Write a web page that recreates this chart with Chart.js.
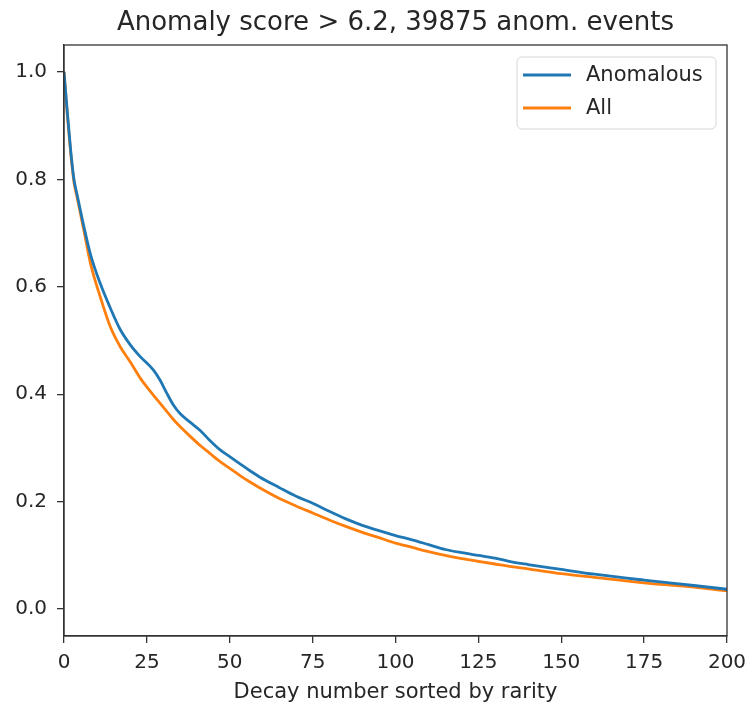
<!DOCTYPE html>
<html>
<head>
<meta charset="utf-8">
<title>Anomaly score</title>
<script src="https://cdn.jsdelivr.net/npm/chart.js@4.4.0/dist/chart.umd.min.js"></script>
<style>
  html, body { margin: 0; padding: 0; background: #fff; }
  #wrap { width: 751px; height: 706px; }
</style>
</head>
<body>
<div id="wrap"><canvas id="chart" width="751" height="706"></canvas></div>
<script>
/* data (decay index sorted by rarity) */
const decayX = [0, 1, 2, 3, 4, 6, 8, 11, 14, 17, 20, 23, 27, 29, 31, 33, 35, 38, 41, 44, 47, 50, 53, 56, 59, 65, 70, 75, 80, 85, 90, 95, 100, 105, 110, 115, 120, 125, 130, 135, 140, 150, 160, 175, 190, 200];
const anomalous = [1.0, 0.925, 0.855, 0.80, 0.77, 0.712, 0.66, 0.605, 0.56, 0.52, 0.492, 0.47, 0.445, 0.426, 0.402, 0.38, 0.364, 0.348, 0.333, 0.314, 0.297, 0.284, 0.271, 0.258, 0.246, 0.226, 0.21, 0.197, 0.182, 0.168, 0.156, 0.146, 0.137, 0.129, 0.12, 0.111, 0.105, 0.1, 0.095, 0.088, 0.083, 0.074, 0.065, 0.054, 0.044, 0.037];
const allEvents = [1.0, 0.92, 0.85, 0.795, 0.765, 0.705, 0.643, 0.58, 0.525, 0.488, 0.46, 0.43, 0.398, 0.383, 0.368, 0.353, 0.34, 0.322, 0.305, 0.29, 0.275, 0.262, 0.249, 0.237, 0.226, 0.206, 0.192, 0.179, 0.166, 0.154, 0.143, 0.133, 0.123, 0.115, 0.107, 0.1, 0.094, 0.089, 0.084, 0.079, 0.075, 0.066, 0.059, 0.049, 0.041, 0.034];
const seriesNames = ['Anomalous', 'All'];
const xTicks = [0, 25, 50, 75, 100, 125, 150, 175, 200];
const yTicks = [0.0, 0.2, 0.4, 0.6, 0.8, 1.0];
const titleText = 'Anomaly score > 6.2, 39875 anom. events';

const FONT = 'DejaVu Sans';
const TEXT = '#262626';

// matplotlib-like frame round the plot area
const framePlugin = {
  id: 'frame',
  afterDraw(chart) {
    const { ctx, chartArea: a } = chart;
    ctx.save();
    ctx.strokeStyle = '#333';
    ctx.lineWidth = 1.3;
    ctx.strokeRect(a.left, a.top, a.right - a.left, a.bottom - a.top);
    ctx.restore();
  }
};

// title centred over the plot area (matplotlib style)
const axesTitle = {
  id: 'axesTitle',
  afterDraw(chart) {
    const { ctx, chartArea: a } = chart;
    ctx.save();
    ctx.font = `26px "${FONT}"`;
    ctx.fillStyle = TEXT;
    ctx.textAlign = 'center';
    ctx.textBaseline = 'alphabetic';
    ctx.fillText(titleText, (a.left + a.right) / 2, a.top - 15);
    ctx.restore();
  }
};

// legend box in the upper right corner
const boxLegend = {
  id: 'boxLegend',
  afterDraw(chart) {
    const { ctx, chartArea: a } = chart;
    const w = 199, h = 72;
    const x = a.right - 11 - w, y = a.top + 12;
    ctx.save();
    ctx.beginPath();
    ctx.roundRect(x, y, w, h, 5);
    ctx.fillStyle = 'rgba(255,255,255,0.8)';
    ctx.fill();
    ctx.strokeStyle = '#d6d6d6';
    ctx.lineWidth = 1;
    ctx.stroke();
    ctx.font = `21px "${FONT}"`;
    ctx.textBaseline = 'middle';
    chart.data.datasets.forEach((ds, i) => {
      const yy = y + 18 + i * 33;
      ctx.strokeStyle = ds.borderColor;
      ctx.lineWidth = 2.8;
      ctx.beginPath();
      ctx.moveTo(x + 6, yy);
      ctx.lineTo(x + 54, yy);
      ctx.stroke();
      ctx.fillStyle = TEXT;
      ctx.fillText(ds.label, x + 69, yy + 1);
    });
    ctx.restore();
  }
};

new Chart(document.getElementById('chart').getContext('2d'), {
  type: 'line',
  data: {
    datasets: [
      {
        label: seriesNames[0],
        data: decayX.map((x, i) => ({ x, y: anomalous[i] })),
        borderColor: '#1f77b4',
        borderWidth: 2.8,
        pointRadius: 0,
        cubicInterpolationMode: 'monotone',
        fill: false
      },
      {
        label: seriesNames[1],
        data: decayX.map((x, i) => ({ x, y: allEvents[i] })),
        borderColor: '#ff7f0e',
        borderWidth: 2.8,
        pointRadius: 0,
        cubicInterpolationMode: 'monotone',
        fill: false
      }
    ]
  },
  options: {
    responsive: false,
    animation: false,
    layout: { padding: { left: 0, right: 24, top: 45, bottom: 0 } },
    scales: {
      x: {
        type: 'linear',
        min: 0, max: 200,
        afterBuildTicks: (s) => { s.ticks = xTicks.map(v => ({ value: v })); },
        afterFit: (s) => { s.height = 70; s.paddingLeft = 0; s.paddingRight = 0; },
        grid: { drawOnChartArea: false, drawTicks: true, tickLength: 7, color: '#333', lineWidth: 1.3 },
        border: { display: true, color: '#333', width: 1.3 },
        ticks: { font: { family: FONT, size: 20 }, color: TEXT, padding: 8, maxRotation: 0 },
        title: { display: true, text: 'Decay number sorted by rarity', font: { family: FONT, size: 21 }, color: TEXT, padding: { top: 0, bottom: 1 } }
      },
      y: {
        type: 'linear',
        min: -0.05, max: 1.05,
        afterBuildTicks: (s) => { s.ticks = yTicks.map(v => ({ value: v })); },
        afterFit: (s) => { s.width = 64; s.paddingTop = 0; s.paddingBottom = 0; },
        grid: { drawOnChartArea: false, drawTicks: true, tickLength: 7, color: '#333', lineWidth: 1.3 },
        border: { display: true, color: '#333', width: 1.3 },
        ticks: { font: { family: FONT, size: 20 }, color: TEXT, padding: 10, callback: (v) => Number(v).toFixed(1) }
      }
    },
    plugins: {
      legend: { display: false },
      tooltip: { enabled: false },
      title: { display: false }
    }
  },
  plugins: [framePlugin, axesTitle, boxLegend]
});
</script>
</body>
</html>
